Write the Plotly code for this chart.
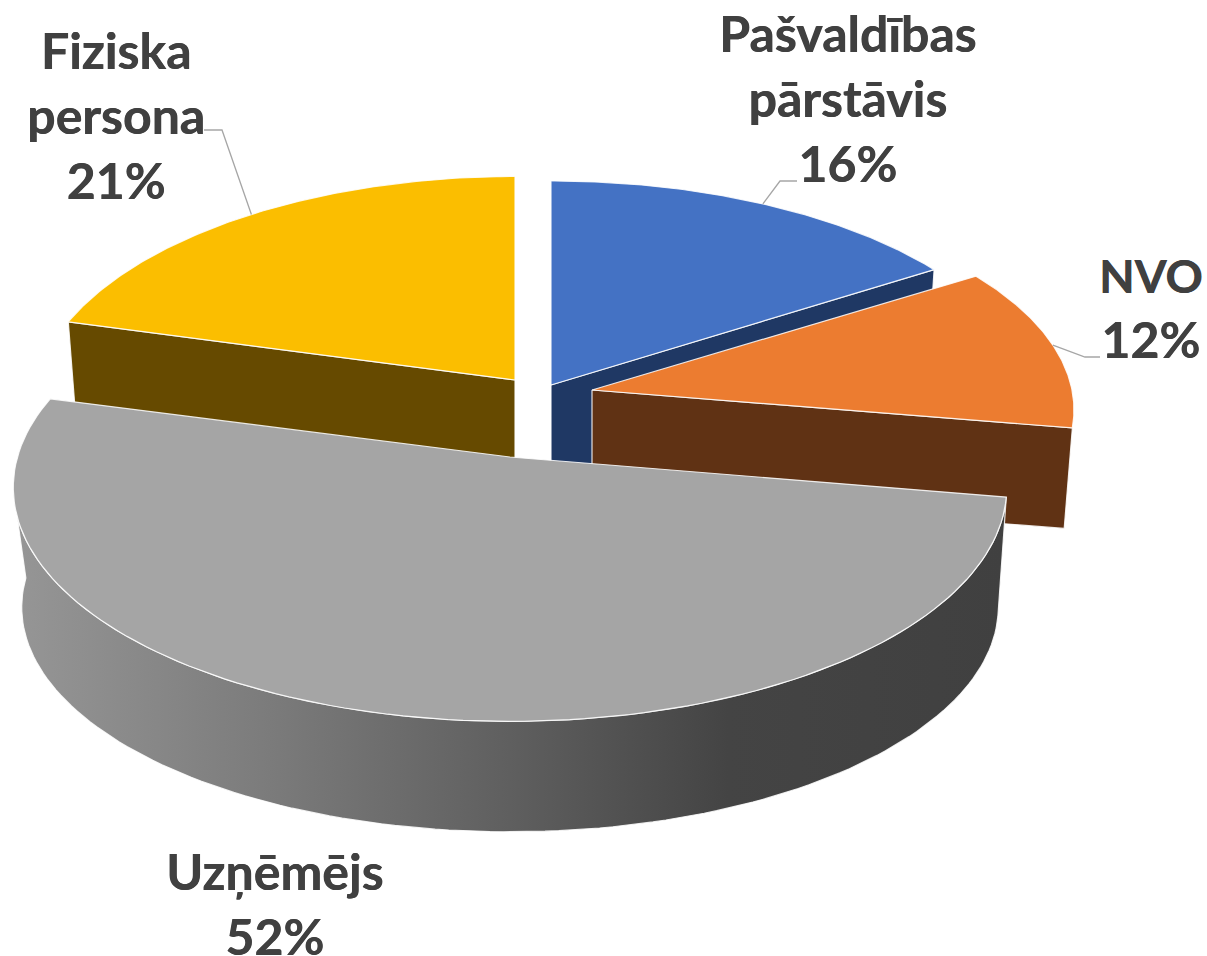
import math
import plotly.graph_objects as go

# --- data ---
categories = ["Pašvaldības pārstāvis", "NVO", "Uzņēmējs", "Fiziska persona"]
values = [16, 12, 52, 21]
label_lines = [["Pašvaldības", "pārstāvis"], ['<span style="font-size:46px">NVO</span>'], ["Uzņēmējs"], ["Fiziska", "persona"]]

# --- styling / layout of the tilted, exploded pie ---
top_colors = ["#4472c4", "#ec7c30", "#a5a5a5", "#fbbe00"]
side_colors = ["#1f3864", "#603214", None, "#664a00"]
gray_side_scale = [[0, "#969696"], [0.25, "#7c7c7c"], [0.5, "#5f5f5f"], [0.72, "#444444"], [1, "#404040"]]
apexes = [(551, 385), (592, 390), (510, 457), (515, 380)]
depths = [95, 102, 121, 95]
scale_x = [0.958, 0.96, 0.985, 0.957]
scale_y = [0.967, 0.954, 1.0, 1.0]
persp = [0.09, 0.09, 0.13, 0.13]
label_pos = [(847, 98), (1150, 308), (274, 903), (116, 115)]
leader_frac = [0.50, 0.49, None, 0.50]        # where on each slice's arc a leader line starts
leader_elbow = [(780, 181), (1085, 357), None, (222, 130)]
leader_end = [(797, 181), (1100, 357), None, (204, 130)]
RX, KY = 500.0, 230.0
BOTTOM_X, BOTTOM_Y = 0.983, 0.96
FRONT_TOP_END = math.radians(262)     # silhouette of the front slice's rim
FRONT_BOTTOM_END = math.radians(270)
TEXT = "#404040"

total = sum(values)
starts, ends = [], []
acc = 0.0
for v in values:
    starts.append(acc / total * 2 * math.pi)
    acc += v
    ends.append(acc / total * 2 * math.pi)


def project(i, theta, bottom=False):
    apex = apexes[i]
    u, v = math.sin(theta), math.cos(theta)
    s = 1 / (1 + persp[i] * v)
    x, y = RX * scale_x[i] * u * s, KY * scale_y[i] * v * s
    if bottom:
        return apex[0] + x * BOTTOM_X, apex[1] - y * BOTTOM_Y + depths[i]
    return apex[0] + x, apex[1] - y


def arc(i, a, b, bottom=False, n=120):
    return [project(i, a + (b - a) * k / n, bottom) for k in range(n + 1)]


fig = go.Figure()


def add_poly(pts, name, color=None, gradient=None):
    kw = dict(x=[p[0] for p in pts] + [pts[0][0]], y=[p[1] for p in pts] + [pts[0][1]],
              mode="lines", fill="toself", name=name, hoverinfo="name",
              line=dict(color="rgba(255,255,255,0.85)", width=1.2))
    if gradient:
        kw["fillgradient"] = dict(type="horizontal", colorscale=gradient)
    else:
        kw["fillcolor"] = color
    fig.add_trace(go.Scatter(**kw))


def cut_face(i, theta):
    a = apexes[i]
    return [a, project(i, theta), project(i, theta, True), (a[0], a[1] + depths[i])]


def top_face(i):
    return [apexes[i]] + arc(i, starts[i], ends[i])


# back slices: blue and yellow
add_poly(cut_face(0, ends[0]), categories[0], side_colors[0])
add_poly(cut_face(3, starts[3]), categories[3], side_colors[3])
add_poly(top_face(0), categories[0], top_colors[0])
add_poly(top_face(3), categories[3], top_colors[3])
# orange slice
add_poly(cut_face(1, ends[1]), categories[1], side_colors[1])
add_poly(top_face(1), categories[1], top_colors[1])
# front slice
add_poly(arc(2, starts[2], FRONT_TOP_END) + arc(2, starts[2], FRONT_BOTTOM_END, True)[::-1],
         categories[2], gradient=gray_side_scale)
add_poly(top_face(2), categories[2], top_colors[2])

# leader lines, starting on the slice rim
for i in range(4):
    if leader_frac[i] is None:
        continue
    p = project(i, starts[i] + (ends[i] - starts[i]) * leader_frac[i])
    fig.add_trace(go.Scatter(x=[p[0], leader_elbow[i][0], leader_end[i][0]],
                             y=[p[1], leader_elbow[i][1], leader_end[i][1]],
                             mode="lines", hoverinfo="skip",
                             line=dict(color="#a6a6a6", width=1.3)))

for i in range(4):
    text = "<br>".join(label_lines[i] + [f"{values[i]}%"])
    fig.add_annotation(x=label_pos[i][0], y=label_pos[i][1], text=f"<b>{text}</b>", showarrow=False,
                       xanchor="center", yanchor="middle", align="center",
                       font=dict(family="Lato", size=50, color=TEXT, shadow="0.6px 0 0 #404040"))

fig.update_layout(width=1207, height=956, margin=dict(l=0, r=0, t=0, b=0), showlegend=False,
                  paper_bgcolor="white", plot_bgcolor="white",
                  xaxis=dict(range=[0, 1207], visible=False, fixedrange=True),
                  yaxis=dict(range=[956, 0], visible=False, fixedrange=True))
fig.write_html("out.html", config={"displayModeBar": False},
               post_script="document.body.style.margin='0';document.documentElement.style.overflow='hidden';")
